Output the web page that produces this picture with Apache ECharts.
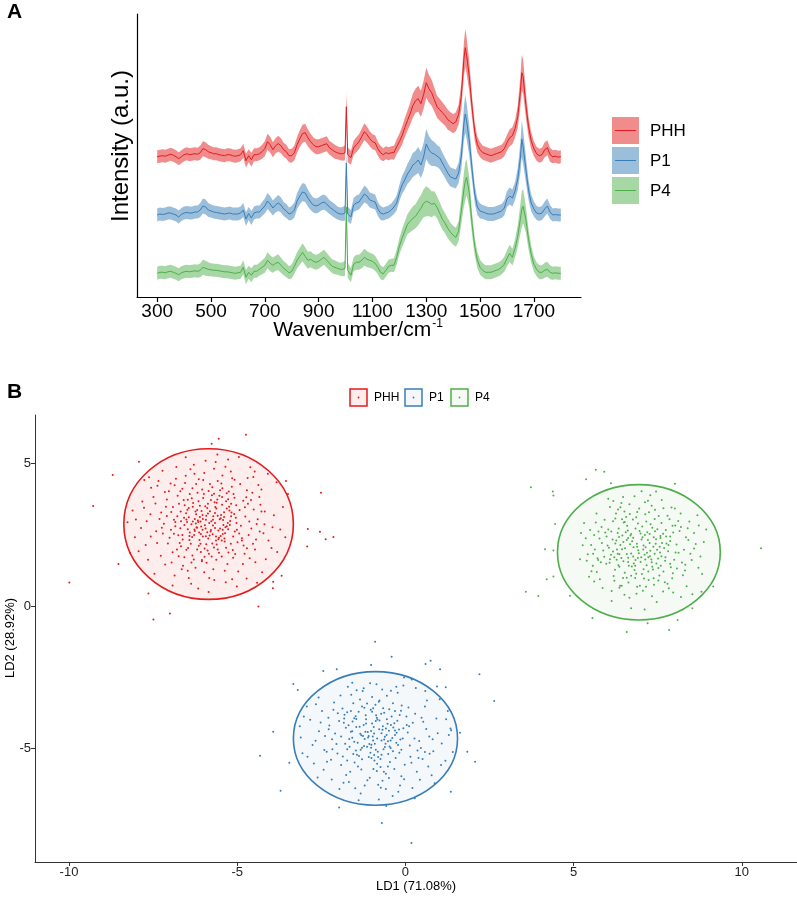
<!DOCTYPE html>
<html><head><meta charset="utf-8">
<script src="https://cdn.jsdelivr.net/npm/echarts/dist/echarts.min.js"></script>
<style>html,body{margin:0;padding:0;background:#fff}#c{width:797px;height:899px}</style>
</head><body><div id="c"></div>
<script>
// ---------- Panel A: Raman spectra ----------
const wavenumbers = [300,310,320,330,340,350,360,370,380,390,
400,410,420,430,440,450,460,470,480,490,
500,510,520,530,540,550,560,570,580,590,
600,610,620,630,640,650,660,670,680,690,
700,710,720,730,740,750,760,770,780,790,
800,810,820,830,840,850,860,870,880,890,
900,910,920,930,940,950,960,970,980,990,
998,1003,1008,
1020,1030,1040,1050,1060,1070,1080,1090,1100,1110,
1120,1130,1140,1150,1160,1170,1180,1190,1200,1210,
1220,1230,1240,1250,1260,1270,1280,1290,1300,1310,
1320,1330,1340,1350,1360,1370,1380,1390,1400,1410,
1420,1430,1440,1445,
1450,1460,1470,1480,1490,1500,1510,1520,1530,1540,
1550,1560,1570,1580,1590,1600,1610,1620,1630,1640,
1650,1655,
1660,1670,1680,1690,1700,1710,1720,1730,1740,1750,
1760,1770,1780,1790,1800];

const phhSpectrum = [0,0.5,1,0.5,1.5,2.5,1.5,0,-2,0,
2,3,2,2.5,3,2.5,4,8,7,5,
4,3,3,2,1.5,1,2,2,1,0.5,
1,2,6,-4,1,-3,2,2,3,5,
8,15,12,7,11,13,11,7,5,1,
1,4,12,18,23,24,19,15,12,10,
10,11,12,13,9,7,5,4,3,3,
4,50,2,
-1,9,12,15,20,25,22,18,15,14,
8,4,2,4,3,4,4,10,15,21,
29,36,43,51,56,58,53,62,74,68,
64,57,50,47,44,41,37,35,33,35,
42,60,98,109,
101,80,50,25,12,7,4,3,2,1,
2,3,4,5,8,14,19,21,28,40,
66,84,
80,52,30,16,8,3,1,2,7,9,
2,0,0.5,-0.5,0];

const p1Spectrum = [0,1,0.5,1,2,2,1,0,-2,0.5,
2,2.5,2,2,3,3,5,9,8,5,
4,3,2.5,2,1.5,1,1.5,2,1,1,
1,2,5,-4,1.5,-3,2,3,3,6,
9,14,11,7,10,12,10,6,4,1,
2,5,14,19,23,22,17,13,10,9,
10,12,13,11,8,6,4,2,1,1,
2,52,1,
-2,10,12,13,17,21,19,15,14,13,
6,2,1,2,3,5,8,12,22,30,
35,41,45,50,52,55,50,58,71,65,
62,61,59,57,52,47,42,38,37,36,
42,58,92,101,
94,74,46,21,8,4,3,2,1,1,
1,2,3,4,7,16,19,17,24,36,
58,76,
68,46,25,12,6,2,1,2,6,9,
3,0,0.5,0,0];

const p4Spectrum = [0,1,1,0.5,1.5,2,1,0,-1.5,0.5,
1.5,2,1.5,2,2.5,2,3,6,5,4,
3.5,3,3,2.5,2,1.5,1.5,1,0.5,0,
0.5,1,6,-4,1,-2,2,2,4,6,
8,13,10,8,10,11,8,5,3,0.5,
2,7,13,17,21,17,13,14,12,11,
12,14,16,13,10,7,6,5,4,4,
5,66,3,
-2,9,11,11,13,16,14,13,12,10,
6,1,-0.5,3,7,8,8,16,27,35,
42,49,52,55,57,61,65,70,72,71,
69,70,66,60,54,50,45,41,38,36,
42,62,84,92,
96,80,50,27,13,6,3,1,1,1,
2,3,4,6,9,15,20,16,25,37,
55,64,
67,54,34,19,9,4,1,1,3,4,
1,0,0.5,0,0];

const spectrumSD = [6.5,6.5,6.5,6.5,6.5,6.5,6.5,6.5,6.5,6.5,
6.5,6.5,6.5,6.5,6.5,6.5,7,7.5,7.5,7,
6.5,6.5,6.5,6.5,6.5,6.5,6.5,6.5,6.5,6.5,
6.5,6.5,7,7,6.5,7,6.5,6.5,6.5,7,
7.5,8,8,7.5,7.5,8,7.5,7,7,6.5,
7,7.5,8,8.5,9,9,8.5,8,7.5,7.5,
7.5,7.5,7.5,7.5,7,7,7,6.5,6.5,7,
7.5,14,7.5,
7,7,7.5,7.5,8,8.5,8,7.5,7.5,7.5,
7,7,6.5,6.5,6.5,6.5,7,7.5,8,9,
9.5,10,11,12,12,13,13,14,15,14,
13,12,11,11,10.5,10,10,9.5,9.5,9.5,
10,13,17,19,
18,15,11,9,8,7.5,7,7,7,7,
7,7,7,7,7.5,8,8.5,8.5,9,11,
15,18,
17,13,10,8.5,7.5,7,7,7,7.5,7.5,
7,6.5,6.5,6.5,6.5];

const spectrumOffsets = [140.3, 82, 23.7];
const wavenumberTicks = [300,500,700,900,1100,1300,1500,1700];

// ---------- Panel B: LDA scores ----------
const groupNames = ['PHH','P1','P4'];
const groupColors = ['#E41A1C','#377EB8','#4DAF4A'];

const phhScores = [[-5.62,3.41],[-6.13,2.57],[-5.21,2.98],[-6.47,3.72],[-5.88,1.94],[-4.93,3.36],[-6.71,2.21],[-5.44,4.12],[-6.02,3.05],[-5.37,2.26],
[-7.12,3.48],[-4.58,2.71],[-6.29,1.63],[-5.75,3.88],[-6.84,2.94],[-5.06,1.82],[-4.71,4.05],[-6.55,4.31],[-5.93,2.44],[-5.48,3.19],
[-7.41,2.62],[-4.39,3.04],[-6.18,3.97],[-5.29,1.47],[-6.92,1.88],[-5.66,2.73],[-4.86,2.37],[-6.36,2.86],[-5.15,4.47],[-7.03,4.02],
[-5.81,3.32],[-6.61,1.41],[-4.47,1.98],[-5.98,4.66],[-6.09,2.18],[-5.33,3.67],[-7.58,3.21],[-4.22,2.55],[-6.44,3.43],[-5.71,1.29],
[-5.02,2.91],[-6.77,3.86],[-5.54,2.39],[-6.26,2.63],[-4.68,3.58],[-7.27,1.76],[-5.87,3.58],[-6.39,4.79],[-5.11,3.92],[-4.97,1.21],
[-6.63,2.49],[-5.41,2.84],[-7.86,2.73],[-4.34,3.82],[-6.05,1.57],[-5.58,4.38],[-6.96,3.29],[-4.81,2.12],[-5.24,3.48],[-6.22,3.21],
[-7.34,4.38],[-5.69,2.05],[-4.52,4.52],[-6.51,1.97],[-5.92,3.16],[-6.88,2.53],[-5.07,2.61],[-4.63,1.67],[-6.33,4.12],[-5.46,1.73],
[-7.65,1.62],[-5.79,2.61],[-4.28,3.31],[-6.14,4.44],[-5.52,3.04],[-6.73,3.58],[-5.19,2.18],[-4.91,4.27],[-6.42,2.31],[-5.97,1.72],
[-7.18,2.88],[-5.35,4.88],[-4.76,3.13],[-6.58,3.09],[-5.63,2.29],[-6.01,3.78],[-7.49,3.82],[-4.44,2.33],[-5.27,3.74],[-6.24,1.34],
[-5.74,4.16],[-6.82,4.46],[-5.09,3.22],[-4.19,2.86],[-6.67,2.09],[-5.86,2.36],[-6.31,3.61],[-5.43,2.52],[-7.77,3.44],[-4.59,3.71],
[-6.07,2.78],[-5.59,3.73],[-6.95,1.52],[-4.83,1.47],[-5.31,2.79],[-6.47,2.69],[-5.16,4.18],[-7.09,3.73],[-4.37,4.24],[-6.19,3.36],
[-5.68,0.91],[-6.37,0.78],[-5.01,0.68],[-6.86,1.07],[-4.72,0.96],[-5.94,5.09],[-6.53,5.21],[-5.27,5.13],[-7.22,4.74],[-4.61,4.86],
[-8.04,2.41],[-8.11,3.34],[-7.93,1.92],[-3.72,2.68],[-3.64,3.47],[-3.81,1.89],[-7.62,4.51],[-4.09,4.63],[-7.46,1.13],[-4.26,1.18],
[-5.83,2.91],[-6.11,3.12],[-5.56,2.64],[-6.34,2.42],[-5.72,3.02],[-6.03,2.67],[-5.39,3.28],[-6.16,2.94],[-5.49,2.45],[-6.26,3.05],
[-5.77,2.97],[-6.21,2.76],[-5.45,3.55],[-6.52,3.25],[-5.61,2.15],[-6.41,3.92],[-5.12,2.43],[-5.95,3.49],[-6.69,2.72],[-5.33,2.04],
[-6.12,2.31],[-5.53,3.86],[-6.78,3.14],[-5.04,3.09],[-5.89,2.58],[-6.46,2.03],[-5.27,2.69],[-6.04,4.08],[-5.66,3.26],[-6.28,2.49],
[-5.18,3.58],[-6.59,3.71],[-5.84,1.83],[-5.42,3.01],[-6.15,3.67],[-4.89,2.81],[-6.91,3.47],[-5.73,2.51],[-5.25,4.01],[-6.38,2.18],
[-5.96,2.83],[-5.58,1.98],[-6.63,4.11],[-4.77,3.46],[-6.08,1.89],[-5.38,2.36],[-6.49,2.94],[-5.81,4.27],[-5.13,1.96],[-7.01,2.39],
[-5.67,3.63],[-6.33,1.77],[-4.66,2.49],[-6.02,2.43],[-5.47,4.29],[-6.74,1.74],[-5.23,3.34],[-7.31,3.05],[-4.55,3.97],[-5.91,1.51],
[-6.17,2.99],[-5.36,2.55],[-6.56,3.53],[-5.78,3.71],[-4.99,2.23],[-6.97,2.67],[-5.62,1.62],[-4.42,2.87],[-7.15,3.99],[-6.27,4.63],
[-5.19,4.71],[-4.78,1.83],[-7.38,2.21],[-6.65,1.29],[-4.31,3.55],[-5.08,3.79],[-7.21,2.54],[-6.86,4.23],[-4.07,2.29],[-7.69,2.97],
[-3.91,3.18],[-7.82,3.66],[-4.15,1.64],[-6.44,0.98],[-5.34,0.83],[-3.98,2.03],[-7.56,4.14],[-4.48,4.71],[-6.81,4.87],[-5.59,5.31],
[-3.57,2.41],[-8.26,2.93],[-3.49,3.92],[-8.19,1.86],[-4.95,5.22],[-6.92,0.72],[-5.85,0.49],[-4.41,0.81],[-7.76,4.41],[-3.83,4.33],
[-5.94,2.71],[-5.71,3.14],[-6.06,3.33],[-5.51,2.71],[-6.23,2.89],[-5.82,2.47],[-5.39,3.12],[-6.41,2.57],[-5.65,3.47],[-6.14,2.11],
[-5.28,2.91],[-6.57,2.84],[-5.99,3.92],[-5.46,2.29],[-6.32,3.48],[-5.17,3.27],[-6.75,2.48],[-5.76,1.73],[-5.01,2.67],[-6.48,3.37],
[-5.85,4.03],[-5.31,3.95],[-6.68,3.31],[-4.94,2.54],[-6.19,1.98],[-5.54,1.86],[-6.01,4.41],[-4.82,3.69],[-6.88,3.02],[-5.44,4.57],
[-6.36,1.52],[-5.12,1.69],[-7.06,2.19],[-4.64,2.96],[-6.53,4.56],[-5.69,4.81],[-4.51,3.38],[-7.26,3.27],[-5.98,1.18],[-6.79,1.98],
[-4.71,2.02],[-5.37,1.23],[-7.43,3.59],[-4.33,2.61],[-6.29,4.95],[-5.08,4.42],[-7.14,1.45],[-4.46,1.53],[-6.98,4.29],[-4.28,4.08],
[-5.72,2.82],[-6.09,2.96],[-5.58,3.16],[-6.27,2.68],[-5.87,3.24],[-5.43,2.67],[-6.44,3.11],[-5.63,2.43],[-6.11,3.51],[-5.31,3.41],
[-6.62,2.33],[-5.92,2.16],[-5.22,2.84],[-6.35,3.77],[-5.69,3.93],[-6.84,2.79],[-5.03,3.53],[-6.05,1.61],[-5.51,4.05],[-7.09,3.15],
[-4.86,2.29],[-6.57,1.71],[-5.26,1.87],[-6.22,4.27],[-4.73,3.81],[-7.24,2.74],[-5.83,0.98],[-6.69,4.02],[-4.53,2.18],[-7.57,2.43],
[-5.15,0.94],[-6.47,1.23],[-4.18,3.31],[-7.72,2.14],[-5.64,5.04],[-4.69,4.48],[-7.37,4.21],[-3.95,2.76],[-8.01,3.03],[-6.16,0.61],
[-5.93,3.02],[-5.78,2.66],[-6.19,2.74],[-5.49,3.07],[-6.03,3.19],[-5.66,2.91],[-6.32,2.96],[-5.56,2.34],[-6.08,2.52],[-5.89,3.43],
[-5.35,2.76],[-6.51,3.03],[-5.74,2.19],[-6.24,3.31],[-5.61,3.62],[-6.42,2.45],[-5.18,3.14],[-6.67,2.97],[-5.97,2.01],[-5.45,3.82],
[-8.70,4.59],[-9.28,3.50],[-9.99,0.82],[-8.53,1.47],[-7.92,5.05],[-5.55,5.86],[-4.74,6.00],[-5.76,5.68],[-2.51,3.97],[-2.90,2.70],
[-2.54,2.60],[-2.37,2.34],[-2.14,2.42],[-2.92,2.08],[-3.55,4.38],[-3.68,1.06],[-3.94,0.62],[-3.93,0.85],[-4.37,-0.02],[-7.00,-0.26],
[-7.49,-0.47],[-7.64,0.44]];

const p1Scores = [[-0.67,-4.21],[-1.14,-4.93],[-0.31,-4.52],[-1.48,-3.86],[-0.92,-5.41],[0.04,-4.17],[-1.73,-5.02],[-0.48,-3.62],[-1.02,-4.38],[-0.18,-5.14],
[-2.09,-4.47],[0.41,-4.73],[-1.31,-5.73],[-0.77,-3.31],[-1.83,-4.09],[-0.02,-5.56],[0.29,-3.78],[-1.55,-3.41],[-0.96,-4.71],[-0.44,-4.98],
[-2.34,-5.11],[0.62,-4.31],[-1.22,-3.57],[-0.58,-5.88],[-1.67,-4.66],[-0.24,-4.02],[0.83,-5.09],[-2.01,-3.76],[-0.85,-3.92],[-1.38,-5.26],
[-0.11,-3.49],[-1.91,-5.57],[0.51,-5.36],[-0.71,-4.46],[-1.46,-4.24],[-2.52,-4.08],[0.13,-4.89],[-1.06,-6.02],[-0.36,-4.26],[-1.61,-3.11],
[-0.88,-5.04],[0.92,-3.94],[-2.21,-5.39],[-0.55,-3.15],[-1.26,-4.56],[-0.04,-6.07],[-1.79,-4.83],[0.34,-5.81],[-0.99,-3.71],[-2.67,-4.72],
[-0.63,-4.68],[-1.17,-4.12],[0.07,-4.43],[-1.51,-5.48],[-0.29,-5.33],[-2.12,-3.38],[0.71,-4.57],[-0.81,-6.26],[-1.35,-3.28],[-0.41,-3.87],
[1.08,-4.82],[-2.43,-5.74],[-0.15,-4.68],[-1.68,-6.17],[0.58,-3.52],[-0.94,-4.24],[-1.87,-3.59],[-0.52,-5.62],[-2.83,-3.99],[0.21,-6.38],
[-1.09,-5.29],[-0.23,-3.04],[1.19,-5.42],[-1.42,-4.79],[-0.71,-5.21],[-2.28,-4.32],[0.46,-4.98],[-1.96,-6.41],[-0.38,-6.66],[-1.24,-2.88],
[1.26,-3.68],[-2.91,-5.28],[-0.06,-2.79],[-1.58,-2.69],[0.87,-6.21],[-2.58,-3.21],[-0.79,-6.78],[1.34,-4.29],[-3.11,-4.61],[0.19,-2.58],
[-0.97,-4.57],[-0.59,-4.83],[-1.29,-4.97],[-0.83,-3.98],[-0.49,-4.37],[-1.12,-4.42],[-0.74,-5.36],[-1.39,-3.71],[-0.27,-4.79],[-1.62,-4.41],
[-0.88,-4.03],[-0.53,-4.13],[-1.04,-5.14],[-0.19,-4.33],[-1.47,-5.06],[-0.66,-3.58],[-1.18,-3.83],[-0.37,-5.09],[-1.73,-3.72],[-0.95,-5.71],
[-0.08,-4.64],[-1.34,-4.48],[-0.61,-4.94],[-1.86,-5.27],[0.22,-4.09],[-0.89,-3.46],[-1.52,-3.93],[-0.46,-5.47],[-2.05,-4.84],[0.36,-5.06],
[-1.11,-4.61],[-0.72,-3.78],[-1.41,-5.62],[-0.17,-3.82],[-1.77,-4.27],[-0.56,-4.52],[-2.17,-5.02],[0.15,-5.28],[-0.84,-5.53],[-1.29,-3.52],
[-0.33,-4.11],[-1.64,-5.81],[0.48,-3.92],[-0.99,-3.19],[-2.39,-4.56],[-0.12,-5.97],[-1.57,-4.05],[0.68,-5.62],[-1.21,-6.29],[-0.43,-2.97],
[-2.48,-3.68],[0.96,-4.46],[-1.93,-3.14],[-0.68,-6.12],[-2.72,-5.52],[1.02,-3.27],[-0.21,-6.51],[-1.45,-2.95],[0.59,-2.98],[-2.19,-6.08],
[-1.01,-4.86],[-0.78,-4.32],[-1.24,-4.17],[-0.52,-4.74],[-0.93,-5.22],[-1.58,-4.62],[-0.31,-3.68],[-1.14,-3.42],[-0.64,-5.81],[-1.82,-3.94],
[0.09,-3.56],[-2.29,-3.92],[-0.86,-2.74],[0.78,-5.93],[-2.61,-6.01],[-1.33,-6.57],[1.41,-5.12],[-3.02,-3.87],[0.28,-6.74],[-0.04,-2.51],
[-0.93,-4.47],[-0.71,-4.71],[-1.07,-4.84],[-0.58,-4.29],[-1.21,-4.66],[-0.82,-5.11],[-0.39,-4.63],[-1.36,-4.23],[-0.65,-5.02],[-1.17,-3.97],
[-0.47,-4.92],[-1.52,-4.76],[-0.87,-3.83],[-0.26,-4.44],[-1.29,-5.37],[-0.74,-5.64],[-1.69,-4.18],[-0.12,-5.04],[-1.03,-3.64],[-0.55,-3.97],
[-1.44,-5.21],[-0.33,-5.71],[-1.91,-4.57],[0.11,-4.21],[-1.13,-6.11],[-0.79,-3.36],[-1.62,-3.68],[0.27,-4.64],[-2.02,-5.17],[-0.49,-6.03],
[-1.27,-2.98],[0.39,-5.33],[-2.26,-4.19],[-0.69,-2.93],[-1.76,-5.92],[0.53,-4.06],[-2.41,-5.05],[-0.16,-6.29],[-1.49,-6.39],[0.72,-5.18],
[-0.91,-4.83],[-0.61,-4.58],[-1.19,-4.41],[-0.43,-4.17],[-1.01,-5.33],[-0.77,-4.01],[-1.33,-5.04],[-0.22,-4.87],[-1.58,-4.39],[-0.96,-3.58],
[-0.37,-3.41],[-1.73,-5.41],[0.03,-3.87],[-2.14,-3.64],[-0.58,-6.41],[-1.05,-2.71],[0.81,-4.67],[-2.57,-4.39],[-0.27,-2.83],[-1.84,-6.19],
[0.64,-3.31],[-2.76,-4.87],[1.06,-5.57],[-3.06,-5.16],[0.31,-2.87],[-1.39,-6.81],[1.21,-3.97],[-2.93,-3.52],[-0.57,-7.01],[0.94,-2.82],
[-0.84,-4.64],[-1.09,-4.56],[-0.68,-4.34],[-0.99,-4.12],[-0.51,-5.19],[-1.23,-4.91],[-0.81,-5.29],[-1.46,-3.96],[-0.31,-4.36],[-1.66,-4.93],
[-0.13,-3.67],[-1.97,-4.03],[0.18,-5.49],[-2.33,-5.46],[-0.73,-6.37],[0.43,-6.09],[-2.66,-3.44],[1.29,-4.52],[-1.71,-2.83],[-3.14,-4.21],
[-1.02,-4.97],[-0.44,-4.71],[-1.31,-4.53],[-0.63,-3.74],[-0.85,-5.78],[-1.55,-5.19],[-0.06,-4.28],[-1.81,-3.81],[0.58,-5.12],[-2.18,-4.67],
[-0.90,-1.25],[-0.41,-1.78],[-1.02,-2.07],[0.60,-2.03],[0.75,-1.92],[1.03,-2.22],[2.20,-2.39],[2.64,-3.33],[1.20,-2.85],[-2.44,-2.28],
[-2.04,-2.22],[-3.33,-2.73],[-3.20,-2.94],[-3.93,-4.41],[-4.32,-5.25],[-3.45,-5.49],[-3.71,-6.47],[-1.97,-7.06],[-0.70,-7.60],[1.35,-6.51],
[2.07,-5.46],[1.84,-5.11],[1.62,-4.44],[1.36,-4.35],[0.18,-8.30]];

const p4Scores = [[7.21,2.31],[6.62,1.54],[7.48,1.97],[6.35,2.42],[7.03,1.12],[7.87,2.28],[6.11,1.79],[7.34,2.74],[6.78,2.06],[7.59,1.41],
[6.47,0.98],[8.12,1.86],[6.91,2.89],[5.84,2.21],[7.66,2.53],[6.23,1.27],[7.15,0.67],[8.34,2.41],[6.56,3.12],[5.97,1.48],
[7.41,3.05],[6.84,1.61],[7.95,1.15],[6.03,2.68],[7.27,1.74],[5.71,1.67],[8.51,1.61],[6.69,2.47],[7.79,3.16],[6.38,0.71],
[7.08,2.12],[6.26,3.24],[8.02,2.82],[5.61,2.49],[7.52,0.89],[6.95,3.41],[6.13,0.52],[8.63,2.17],[7.36,1.28],[5.92,3.02],
[6.73,1.38],[7.69,2.03],[6.44,1.99],[7.91,3.45],[5.53,1.22],[7.12,3.63],[8.25,1.08],[6.17,2.97],[7.58,2.38],[6.59,2.81],
[7.01,1.71],[8.44,2.96],[5.78,0.94],[6.87,0.43],[7.83,0.62],[6.31,1.83],[7.44,2.18],[5.66,2.92],[8.71,1.34],[6.99,2.54],
[6.52,1.16],[7.24,3.28],[8.18,3.24],[5.88,1.94],[7.73,1.71],[6.66,3.56],[5.42,1.81],[7.96,2.57],[6.21,0.88],[7.33,0.34],
[8.87,2.24],[5.49,2.66],[6.81,3.84],[7.62,3.71],[6.07,1.51],[8.36,0.69],[5.27,2.13],[7.17,1.43],[6.42,3.61],[7.89,1.36],
[6.92,1.95],[7.13,1.63],[6.74,2.27],[7.37,2.07],[6.58,1.82],[7.05,2.41],[6.83,1.41],[7.51,1.66],[6.39,2.14],[7.22,1.21],
[6.96,2.63],[6.48,1.57],[7.63,2.21],[6.71,1.06],[7.29,2.86],[6.16,2.33],[7.81,1.92],[6.55,2.58],[7.09,0.96],[6.28,1.62],
[7.46,1.49],[6.88,2.18],[7.74,2.66],[6.34,2.71],[7.18,1.86],[6.63,0.82],[7.99,1.62],[6.05,2.04],[7.42,3.37],[6.77,1.73],
[8.28,1.97],[5.81,1.53],[7.55,1.07],[6.44,3.04],[8.06,2.15],[6.19,1.05],[7.26,2.52],[5.98,2.43],[7.71,0.83],[6.67,3.22],
[8.47,1.83],[5.63,1.98],[7.06,0.53],[6.32,3.38],[8.15,2.63],[5.74,2.61],[7.39,0.74],[6.86,3.11],[8.58,2.56],[5.57,1.41],
[7.93,0.97],[6.08,3.47],[7.61,2.91],[6.51,0.39],[8.32,1.44],[5.36,2.37],[7.28,3.88],[6.24,2.19],[8.77,1.73],[5.46,1.02],
[7.85,3.04],[6.13,0.17],[7.47,0.14],[8.94,2.68],[5.19,1.64],[7.02,4.02],[6.71,-0.08],[8.68,3.18],[5.31,2.91],[8.53,0.41],
[7.75,2.43],[6.36,1.37],[7.16,2.96],[6.89,0.67],[7.57,1.87],[6.62,2.38],[7.32,1.53],[6.21,1.71],[7.87,1.48],[6.52,2.94],
[8.01,3.41],[5.68,3.24],[8.39,2.72],[5.86,0.63],[7.11,-0.12],[6.47,3.82],[8.82,1.12],[5.22,2.56],[8.19,0.31],[6.03,3.76],
[6.89,2.07],[7.11,1.79],[6.71,1.84],[7.26,2.21],[6.53,2.02],[7.02,2.33],[6.79,1.49],[7.41,1.83],[6.42,1.68],[7.19,2.58],
[6.61,2.64],[7.56,2.07],[6.27,2.29],[7.34,1.37],[6.84,2.71],[7.72,1.58],[6.17,1.91],[7.08,1.29],[6.49,2.92],[7.87,2.43],
[6.33,1.43],[7.49,2.69],[6.01,2.12],[7.67,1.21],[6.76,3.03],[8.03,1.87],[5.91,1.72],[7.23,0.91],[6.58,0.99],[7.94,2.81],
[5.77,2.36],[7.53,3.15],[6.24,3.06],[8.22,1.52],[6.97,0.71],[5.58,1.83],[7.79,0.78],[6.39,3.46],[8.41,2.31],[5.69,1.19],
[6.94,1.85],[7.14,2.06],[6.68,2.16],[7.31,1.63],[6.81,1.26],[7.45,2.34],[6.45,2.47],[7.04,2.78],[6.64,1.41],[7.61,1.74],
[6.29,1.98],[7.76,2.19],[6.89,3.29],[6.12,2.61],[7.38,0.97],[8.11,2.98],[5.83,2.77],[7.67,3.42],[6.36,0.64],[8.31,1.24],
[5.52,2.14],[7.21,3.69],[6.66,0.29],[8.58,2.01],[5.39,1.58],[7.96,0.47],[6.18,3.68],[8.72,2.82],[5.61,0.86],[7.45,4.01],
[6.91,1.68],[7.07,1.98],[6.58,2.31],[7.28,1.93],[6.71,2.52],[7.52,1.33],[6.36,1.81],[7.42,2.62],[6.83,0.98],[7.82,2.14],
[6.08,1.64],[7.13,3.21],[6.51,3.31],[8.07,1.31],[5.94,2.57],[7.66,0.51],[6.43,0.71],[8.19,2.77],[5.73,1.61],[7.32,3.51],
[6.99,1.54],[6.77,2.39],[7.22,1.71],[6.62,1.69],[7.38,2.41],[6.48,2.24],[7.58,2.45],[6.86,1.13],[7.12,2.49],[6.31,2.56],
[3.73,4.16],[4.38,4.01],[4.40,3.87],[5.37,4.44],[5.66,4.77],[5.91,4.70],[6.11,4.30],[8.01,4.28],[4.45,2.87],[4.15,1.99],
[4.40,1.94],[4.40,1.03],[4.20,0.94],[3.58,0.50],[3.95,0.35],[4.89,0.36],[5.56,-0.42],[6.58,-0.91],[7.20,-0.61],[7.84,-0.84],
[8.09,-0.49],[8.53,-0.08],[9.15,0.68],[10.57,2.02],[8.80,0.50]];

// 95% ellipses: [centre LD1, centre LD2, half-width LD1, half-height LD2]
const ellipseParams = [[-5.85,2.87,2.52,2.64],[-0.89,-4.64,2.44,2.34],[6.94,1.88,2.42,2.37]];
const ld1Ticks = [-10,-5,0,5,10];
const ld2Ticks = [-5,0,5];

// ---------- build chart ----------
const FONT = "'Liberation Sans',Arial,sans-serif";
const bandColors = ['rgba(228,26,28,0.5)','rgba(55,126,184,0.5)','rgba(77,175,74,0.5)'];
const ellipseFills = ['rgba(228,26,28,0.08)','rgba(55,126,184,0.05)','rgba(77,175,74,0.06)'];
const spectra = [phhSpectrum, p1Spectrum, p4Spectrum];
const scores = [phhScores, p1Scores, p4Scores];

const series = [];
spectra.forEach((spec, g) => {
  const off = spectrumOffsets[g];
  series.push({
    type: 'custom', xAxisIndex: 0, yAxisIndex: 0, silent: true, z: 2,
    data: [[wavenumbers[0], off]],
    renderItem: function (params, api) {
      const up = [], lo = [];
      for (let k = 0; k < wavenumbers.length; k++) {
        up.push(api.coord([wavenumbers[k], spec[k] + off + spectrumSD[k]]));
        lo.push(api.coord([wavenumbers[k], spec[k] + off - spectrumSD[k]]));
      }
      return { type: 'polygon', shape: { points: up.concat(lo.reverse()) }, style: { fill: bandColors[g] } };
    }
  });
  series.push({
    type: 'line', xAxisIndex: 0, yAxisIndex: 0, silent: true, z: 3,
    showSymbol: false, symbol: 'none',
    lineStyle: { width: 1, color: groupColors[g] },
    data: wavenumbers.map((w, k) => [w, spec[k] + off])
  });
});
ellipseParams.forEach((e, g) => {
  series.push({
    type: 'custom', xAxisIndex: 1, yAxisIndex: 1, silent: true, z: 2,
    data: [e],
    renderItem: function (params, api) {
      const c = api.coord([api.value(0), api.value(1)]);
      const s = api.size([api.value(2), api.value(3)]);
      return { type: 'ellipse', shape: { cx: c[0], cy: c[1], rx: s[0], ry: s[1] },
        style: { fill: ellipseFills[g], stroke: groupColors[g], lineWidth: 1.6 } };
    }
  });
});
scores.forEach((pts, g) => {
  series.push({
    type: 'scatter', name: groupNames[g], xAxisIndex: 1, yAxisIndex: 1, silent: true, z: 4,
    symbolSize: 2, itemStyle: { color: groupColors[g], opacity: 1 }, data: pts
  });
});

const graphics = [
  { type: 'text', left: 7, top: 2, style: { text: 'A', font: 'bold 21px Liberation Sans, Arial, sans-serif', fill: '#000' } },
  { type: 'text', left: 7, top: 382, style: { text: 'B', font: 'bold 21px Liberation Sans, Arial, sans-serif', fill: '#000' } },
  { type: 'text', x: 358, y: 330, style: { text: '{a|Wavenumber/cm}{s|-1}', align: 'center', verticalAlign: 'middle',
      rich: { a: { fontSize: 21, fontFamily: FONT, fill: '#000' }, s: { fontSize: 12, fontFamily: FONT, fill: '#000', verticalAlign: 'top', padding: [0,0,12,1] } } } },
  { type: 'text', x: 121, y: 146, rotation: Math.PI / 2, style: { text: 'Intensity (a.u.)', align: 'center', verticalAlign: 'middle', fontSize: 24, fontFamily: FONT, fill: '#000' } },
  { type: 'text', x: 416, y: 886, style: { text: 'LD1 (71.08%)', align: 'center', verticalAlign: 'middle', fontSize: 13, fontFamily: FONT, fill: '#000' } },
  { type: 'text', x: 10, y: 638, rotation: Math.PI / 2, style: { text: 'LD2 (28.92%)', align: 'center', verticalAlign: 'middle', fontSize: 13, fontFamily: FONT, fill: '#000' } }
];
// legend panel A
groupNames.forEach((n, g) => {
  const y0 = 117 + g * 30;
  graphics.push({ type: 'rect', shape: { x: 612, y: y0, width: 27, height: 27 }, style: { fill: bandColors[g] } });
  graphics.push({ type: 'line', shape: { x1: 615, y1: y0 + 13.5, x2: 636, y2: y0 + 13.5 }, style: { stroke: groupColors[g], lineWidth: 1 } });
  graphics.push({ type: 'text', x: 650, y: y0 + 14, style: { text: n, verticalAlign: 'middle', fontSize: 17, fontFamily: FONT, fill: '#000' } });
});
// legend panel B
const legBX = [350, 405, 451];
groupNames.forEach((n, g) => {
  const x0 = legBX[g];
  graphics.push({ type: 'rect', shape: { x: x0, y: 389, width: 17, height: 17 }, style: { fill: ellipseFills[g], stroke: groupColors[g], lineWidth: 1.5 } });
  graphics.push({ type: 'circle', shape: { cx: x0 + 8.5, cy: 397.5, r: 0.9 }, style: { fill: groupColors[g] } });
  graphics.push({ type: 'text', x: x0 + 24, y: 398, style: { text: n, verticalAlign: 'middle', fontSize: 12, fontFamily: FONT, fill: '#000' } });
});

const chart = echarts.init(document.getElementById('c'), null, { renderer: 'canvas' });
chart.setOption({
  animation: false,
  backgroundColor: '#fff',
  grid: [
    { left: 137, top: 14, width: 444, height: 283 },
    { left: 35, top: 415, width: 762, height: 447 }
  ],
  xAxis: [
    { type: 'value', gridIndex: 0, min: 225, max: 1875,
      axisLine: { show: true, onZero: false, lineStyle: { color: '#000', width: 1.2 } },
      axisTick: { show: true, length: 5, customValues: wavenumberTicks, lineStyle: { color: '#000', width: 1.2 } },
      axisLabel: { customValues: wavenumberTicks, formatter: v => String(v), fontSize: 19, fontFamily: FONT, color: '#000', margin: 5 },
      splitLine: { show: false } },
    { type: 'value', gridIndex: 1, min: -11.01, max: 11.64,
      axisLine: { show: true, onZero: false, lineStyle: { color: '#333', width: 1 } },
      axisTick: { show: true, length: 4, customValues: ld1Ticks, lineStyle: { color: '#333' } },
      axisLabel: { customValues: ld1Ticks, formatter: v => String(v), fontSize: 13, fontFamily: FONT, color: '#222', margin: 4 },
      splitLine: { show: false } }
  ],
  yAxis: [
    { type: 'value', gridIndex: 0, min: 0, max: 283,
      axisLine: { show: true, onZero: false, lineStyle: { color: '#000', width: 1.2 } },
      axisTick: { show: false }, axisLabel: { show: false }, splitLine: { show: false } },
    { type: 'value', gridIndex: 1, min: -8.97, max: 6.69,
      axisLine: { show: true, onZero: false, lineStyle: { color: '#333', width: 1 } },
      axisTick: { show: true, length: 4, customValues: ld2Ticks, lineStyle: { color: '#333' } },
      axisLabel: { customValues: ld2Ticks, formatter: v => String(v), fontSize: 13, fontFamily: FONT, color: '#222', margin: 4 },
      splitLine: { show: false } }
  ],
  graphic: graphics,
  series: series
});
</script></body></html>
